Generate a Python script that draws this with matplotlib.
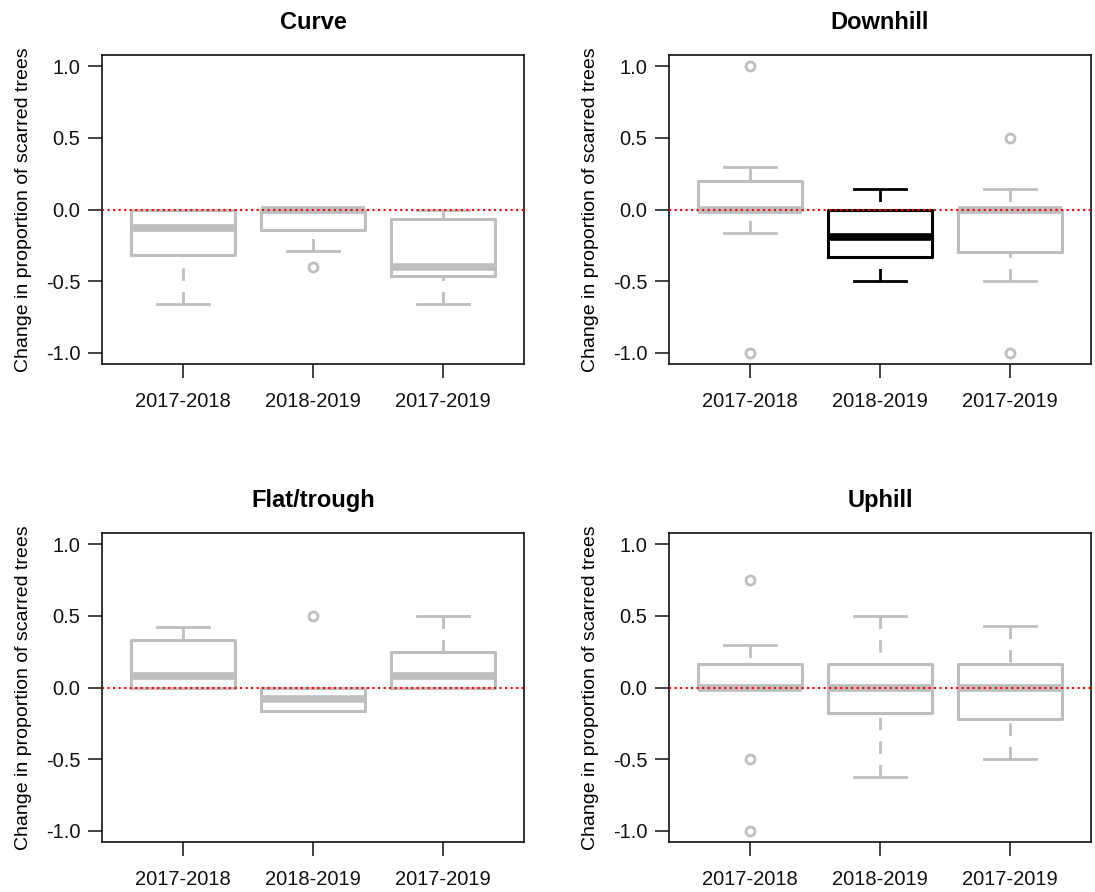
import matplotlib
matplotlib.use("Agg")
import matplotlib.pyplot as plt

plt.rcParams['font.family'] = ['Liberation Sans', 'DejaVu Sans']
plt.rcParams['axes.unicode_minus'] = False

# periods on the x axis
periods = ['2017-2018', '2018-2019', '2017-2019']
panels = ['Curve', 'Downhill', 'Flat/trough', 'Uphill']

# box stats per panel, one entry per period
curve_whislo = [-0.663, -0.288, -0.663]
curve_q1 = [-0.316, -0.14, -0.465]
curve_med = [-0.126, 0.0, -0.40]
curve_q3 = [0.0, 0.0, -0.067]
curve_whishi = [0.0, 0.0, 0.0]
curve_fliers = [[], [-0.40], []]

downhill_whislo = [-0.163, -0.50, -0.50]
downhill_q1 = [0.0, -0.333, -0.298]
downhill_med = [0.0, -0.19, 0.0]
downhill_q3 = [0.202, 0.0, 0.0]
downhill_whishi = [0.30, 0.142, 0.142]
downhill_fliers = [[1.0, -1.0], [], [0.5, -1.0]]

flat_whislo = [0.0, -0.163, 0.0]
flat_q1 = [0.0, -0.163, 0.0]
flat_med = [0.081, -0.081, 0.081]
flat_q3 = [0.333, 0.0, 0.25]
flat_whishi = [0.421, 0.0, 0.50]
flat_fliers = [[], [0.5], []]

uphill_whislo = [0.0, -0.629, -0.50]
uphill_q1 = [0.0, -0.177, -0.221]
uphill_med = [0.0, 0.0, 0.0]
uphill_q3 = [0.165, 0.165, 0.165]
uphill_whishi = [0.30, 0.50, 0.433]
uphill_fliers = [[0.75, -0.5, -1.0], [], []]

# which box is highlighted (black) in each panel
highlight = {'Downhill': 1}

data = {
    'Curve': (curve_whislo, curve_q1, curve_med, curve_q3, curve_whishi, curve_fliers),
    'Downhill': (downhill_whislo, downhill_q1, downhill_med, downhill_q3, downhill_whishi, downhill_fliers),
    'Flat/trough': (flat_whislo, flat_q1, flat_med, flat_q3, flat_whishi, flat_fliers),
    'Uphill': (uphill_whislo, uphill_q1, uphill_med, uphill_q3, uphill_whishi, uphill_fliers),
}

fig = plt.figure(figsize=(10.95, 8.92), dpi=100)
W, H = 1095, 892
# axes rectangles in pixels: left, top, right, bottom
rects = [(102, 55, 524, 364), (669, 55, 1091, 364),
         (102, 533, 524, 842), (669, 533, 1091, 842)]

grey = '#BEBEBE'

for name, (l, t, r, b) in zip(panels, rects):
    ax = fig.add_axes([l / W, 1 - b / H, (r - l) / W, (b - t) / H])
    wlo, q1, med, q3, whi, fl = data[name]
    stats = []
    for i in range(len(periods)):
        stats.append(dict(whislo=wlo[i], q1=q1[i], med=med[i], q3=q3[i],
                          whishi=whi[i], fliers=fl[i], label=periods[i]))
    for i, s in enumerate(stats):
        c = 'black' if highlight.get(name) == i else grey
        res = ax.bxp([s], positions=[i + 1], widths=0.8, capwidths=0.4,
                     boxprops=dict(color=c, linewidth=2.2),
                     medianprops=dict(color=c, linewidth=5.5, solid_capstyle='butt'),
                     whiskerprops=dict(color=c, linewidth=2, linestyle=(0, (4.5, 4))),
                     capprops=dict(color=c, linewidth=2),
                     flierprops=dict(marker='o', markerfacecolor='none',
                                     markeredgecolor=c, markersize=6.5,
                                     markeredgewidth=2),
                     manage_ticks=False)
        # R draws whiskers from the end towards the box
        for w in res['whiskers']:
            w.set_ydata(w.get_ydata()[::-1])

    ax.axhline(0, color='red', linestyle=':', linewidth=1.5, zorder=5)

    ax.set_xlim(0.38, 3.62)
    ax.set_ylim(-1.08, 1.08)
    ax.set_xticks([1, 2, 3])
    ax.set_xticklabels(periods)
    ax.set_yticks([-1.0, -0.5, 0.0, 0.5, 1.0])
    ax.set_yticklabels(['-1.0', '-0.5', '0.0', '0.5', '1.0'])
    ax.tick_params(direction='out', length=10, width=1.1, labelsize=14.5, colors='#111111')
    ax.tick_params(axis='x', pad=10)
    ax.tick_params(axis='y', pad=5.5)
    for sp in ax.spines.values():
        sp.set_linewidth(1.2)
        sp.set_color('#111111')
    ax.set_ylabel('Change in proportion of scarred trees', fontsize=14, labelpad=10)
    ax.set_title(name, fontsize=17, fontweight='bold', pad=19)

fig.savefig('out.png', dpi=100)
